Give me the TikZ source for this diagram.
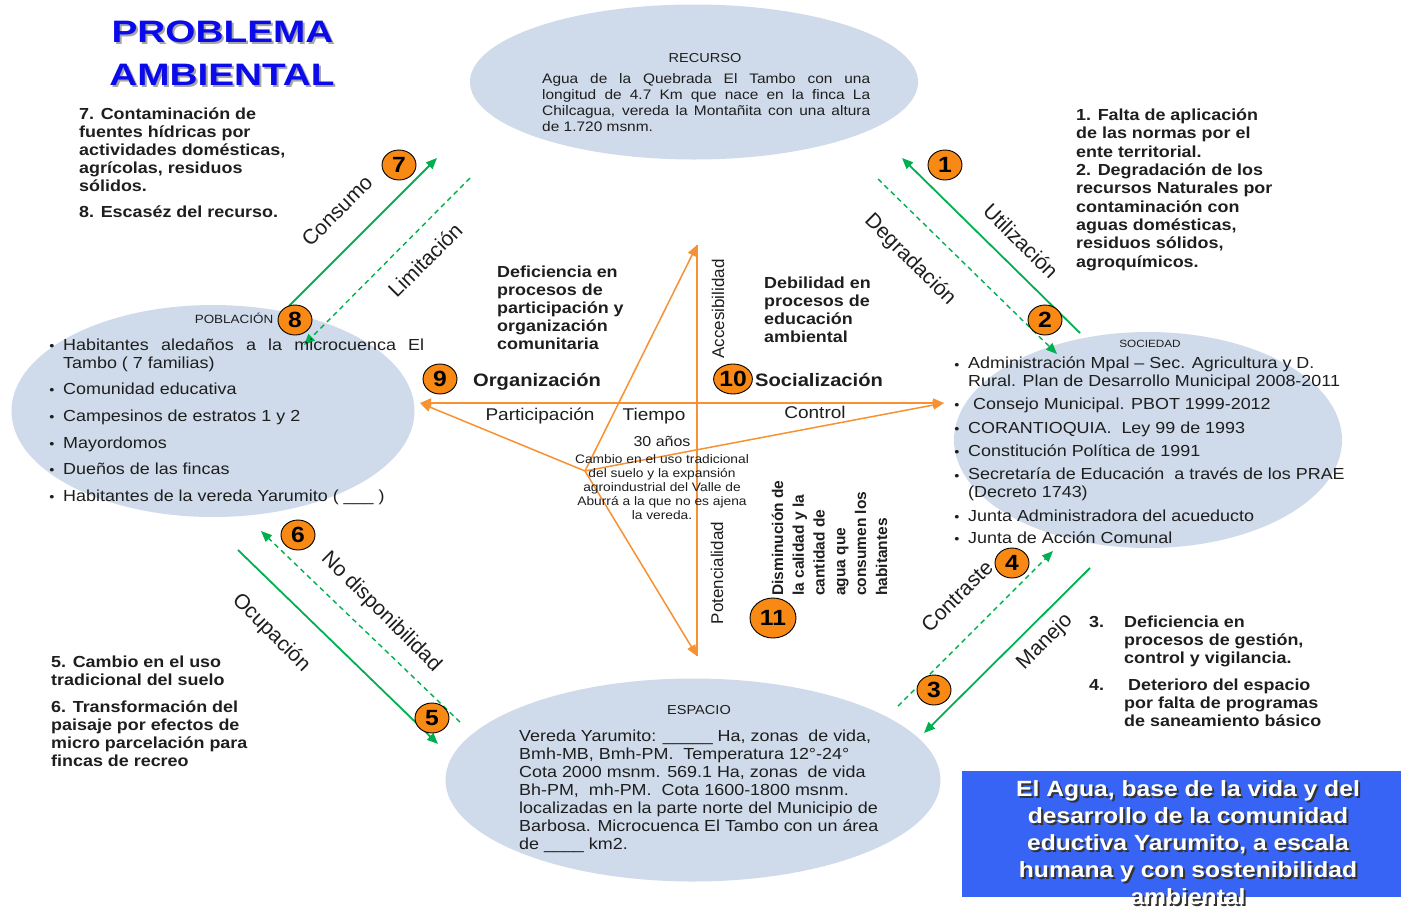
\documentclass[tikz,border=0pt]{standalone}
\usepackage{fontspec}
\setmainfont{Liberation Sans}[FakeStretch=1.12]
\newfontfamily\rotfont{Liberation Sans}
\newfontfamily\headfont{Liberation Sans}[FakeStretch=1.25]
\usetikzlibrary{shapes.geometric,arrows.meta}
\definecolor{ellfill}{RGB}{207,219,234}
\definecolor{arrgreen}{RGB}{0,176,80}
\definecolor{numorange}{RGB}{247,137,20}
\definecolor{linorange}{RGB}{247,145,50}
\definecolor{boxblue}{RGB}{55,100,245}
\definecolor{titleblue}{RGB}{10,10,235}
\definecolor{txtgray}{RGB}{30,30,30}

\begin{document}
\begin{tikzpicture}[
    x=1pt, y=-1pt,
    >={Triangle[width=9pt,length=11pt]},
    ell/.style={ellipse,fill=ellfill,inner sep=0pt},
    num/.style={ellipse,draw,fill=numorange,line width=0.9pt,inner sep=0pt,
      minimum width=34pt,minimum height=30pt,font=\bfseries\fontsize{22}{22}\selectfont},
    bold/.style={anchor=base west,align=left,inner sep=0pt,text=txtgray,
      font=\bfseries\fontsize{16}{18}\selectfont},
    plain/.style={anchor=base west,align=left,inner sep=0pt,text=txtgray,
      font=\fontsize{16}{18}\selectfont},
    small/.style={anchor=base,inner sep=0pt,text=txtgray,font=\fontsize{#1}{#1}\selectfont},
    bul/.style={anchor=base,inner sep=0pt,text=txtgray,font=\fontsize{13}{13}\selectfont},
    lab/.style={inner sep=0pt,text=txtgray,font=\rotfont\fontsize{21}{21}\selectfont},
    flow/.style={arrgreen,line width=1.8pt,->},
    back/.style={arrgreen,line width=1.4pt,dash pattern=on 5pt off 4pt,->},
    star/.style={linorange,line width=1.5pt}
  ]
  \fill[white] (0,0) rectangle (1401,906);
  \useasboundingbox (0,0) rectangle (1401,906);

  % the four ellipses
  \node[ell,minimum width=448pt,minimum height=155pt] (recurso) at (694,82) {};
  \node[ell,minimum width=403pt,minimum height=212pt] (poblacion) at (213,411) {};
  \node[ell,minimum width=388pt,minimum height=216pt] (sociedad) at (1148,440) {};
  \node[ell,minimum width=495pt,minimum height=203pt] (espacio) at (693,780) {};

  % title
  \node[anchor=base,inner sep=0pt,text=black!35,font=\headfont\bfseries\fontsize{31}{31}\selectfont] (tit1s) at (224.5,44) {PROBLEMA};
  \node[anchor=base,inner sep=0pt,text=titleblue,font=\headfont\bfseries\fontsize{31}{31}\selectfont] (tit1) at (222.5,42) {PROBLEMA};
  \node[anchor=base,inner sep=0pt,text=black!35,font=\headfont\bfseries\fontsize{31}{31}\selectfont] (tit2s) at (224,87) {AMBIENTAL};
  \node[anchor=base,inner sep=0pt,text=titleblue,font=\headfont\bfseries\fontsize{31}{31}\selectfont] (tit2) at (222,85) {AMBIENTAL};

  % green arrows between the ellipses
  \coordinate (consA) at (289,306);  \coordinate (consB) at (437,158);
  \coordinate (limA) at (470,178);   \coordinate (limB) at (304,345);
  \coordinate (utilA) at (1080,333); \coordinate (utilB) at (902,158);
  \coordinate (degA) at (878,179);   \coordinate (degB) at (1057,354);
  \coordinate (contA) at (898,706);  \coordinate (contB) at (1053,551);
  \coordinate (manA) at (1090,568);  \coordinate (manB) at (924,733);
  \coordinate (nodA) at (460,722);   \coordinate (nodB) at (261,531);
  \coordinate (ocuA) at (238,550);   \coordinate (ocuB) at (438,744);
  \draw[flow] (consA) -- (consB);
  \draw[back] (limA) -- (limB);
  \draw[flow] (utilA) -- (utilB);
  \draw[back] (degA) -- (degB);
  \draw[back] (contA) -- (contB);
  \draw[flow] (manA) -- (manB);
  \draw[back] (nodA) -- (nodB);
  \draw[flow] (ocuA) -- (ocuB);

  \node[lab,rotate=45] (consumo) at (337,211) {Consumo};
  \node[lab,rotate=45] (limitacion) at (425,260) {Limitación};
  \node[lab,rotate=-45] (utilizacion) at (1021,241) {Utilización};
  \node[lab,rotate=-45] (degradacion) at (910,260) {Degradación};
  \node[lab,rotate=45] (contraste) at (957,596) {Contraste};
  \node[lab,rotate=45] (manejo) at (1045,642) {Manejo};
  \node[lab,rotate=-45] (nodisp) at (381,612) {No disponibilidad};
  \node[lab,rotate=-45] (ocupacion) at (271,633) {Ocupación};

  % orange star
  \coordinate (hub) at (585,471);
  \coordinate (pleft) at (420,403);
  \coordinate (pright) at (944,403);
  \coordinate (ptop) at (697,245);
  \coordinate (pbot) at (697,656);
  \draw[star,<->] (pleft) -- (pright);
  \draw[star] (ptop) -- (pbot);
  \draw[star,->] (hub) -- (pleft);
  \draw[star,->] (hub) -- (ptop);
  \draw[star,->] (hub) -- (pbot);
  \draw[star,->] (hub) -- (pright);

  % texts around (base = last line)
  \node[bold] (contam) at (79,191) {7. Contaminación de\\fuentes hídricas por\\actividades domésticas,\\agrícolas, residuos\\sólidos.};
  \node[bold] (escasez) at (79,217) {8. Escaséz del recurso.};
  \node[bold,font=\bfseries\fontsize{16}{18.3}\selectfont] (falta) at (1076,267) {1. Falta de aplicación\\de las normas por el\\ente territorial.\\2. Degradación de los\\recursos Naturales por\\contaminación con\\aguas domésticas,\\residuos sólidos,\\agroquímicos.};
  \node[bold] (defpart) at (497,349) {Deficiencia en\\procesos de\\participación y\\organización\\comunitaria};
  \node[bold] (debil) at (764,342) {Debilidad en\\procesos de\\educación\\ambiental};
  \node[bold] (num3) at (1089,627) {3.};
  \node[bold] (defgest) at (1124,663) {Deficiencia en\\procesos de gestión,\\control y vigilancia.};
  \node[bold] (num4) at (1089,690) {4.};
  \node[bold] (deter) at (1124,726) {\hspace*{4pt}Deterioro del espacio\\por falta de programas\\de saneamiento básico};
  \node[bold] (cambio) at (51,685) {5. Cambio en el uso\\tradicional del suelo};
  \node[bold] (transf) at (51,766) {6. Transformación del\\paisaje por efectos de\\micro parcelación para\\fincas de recreo};

  \node[bold,font=\bfseries\fontsize{18}{18}\selectfont] (organiz) at (473,386) {Organización};
  \node[bold,font=\bfseries\fontsize{18}{18}\selectfont] (socializ) at (755,386) {Socialización};
  \node[small=17] (particip) at (540,420) {Participación};
  \node[small=17] (tiempo) at (654,420) {Tiempo};
  \node[small=17] (control) at (815,418) {Control};
  \node[small=14.3] (anos) at (662,446) {30 años};
  \node[anchor=base,align=center,inner sep=0pt,text=txtgray,font=\fontsize{12.3}{14}\selectfont] (cambiouso) at (662,519)
    {Cambio en el uso tradicional\\del suelo y la expansión\\agroindustrial del Valle de\\Aburrá a la que no es ajena\\la vereda.};
  \node[rotate=90,inner sep=0pt,text=txtgray,font=\rotfont\fontsize{17}{17}\selectfont] (accesib) at (718,309) {Accesibilidad};
  \node[rotate=90,inner sep=0pt,text=txtgray,font=\rotfont\fontsize{17}{17}\selectfont] (potenc) at (717,573) {Potencialidad};
  \node[rotate=90,anchor=base west,align=left,inner sep=0pt,text=txtgray,font=\rotfont\bfseries\fontsize{15.5}{20.8}\selectfont] (dismin) at (887,596)
    {Disminución de\\la calidad y la\\cantidad de\\agua que\\consumen los\\habitantes};

  % RECURSO
  \node[small=13] (recursoT) at (705,62) {RECURSO};
  \node[anchor=base west,align=left,inner sep=0pt,text=txtgray,font=\fontsize{13.8}{16}\selectfont] (recursoX) at (542,131)
    {\makebox[328pt][s]{Agua de la Quebrada El Tambo con una}\\
     \makebox[328pt][s]{longitud de 4.7 Km que nace en la finca La}\\
     \makebox[328pt][s]{Chilcagua, vereda la Montañita con una altura}\\
     de 1.720 msnm.};

  % POBLACION
  \node[small=12] (poblacionT) at (234,323) {POBLACIÓN};
  \node[plain] (pob1) at (63,368) {\makebox[361pt][s]{Habitantes aledaños a la microcuenca El}\\Tambo ( 7 familias)};
  \foreach \yy/\itm in {394/{Comunidad educativa},421/{Campesinos de estratos 1 y 2},448/{Mayordomos},474/{Dueños de las fincas},501/{Habitantes de la vereda Yarumito ( \_\_\_ )}}
    \node[plain] (pob-\yy) at (63,\yy) {\itm};
  \foreach \yy in {350,394,421,448,474,501}
    \node[bul] (pobb-\yy) at (52,\yy) {•};

  % SOCIEDAD
  \node[small=10.5] (sociedadT) at (1150,347) {SOCIEDAD};
  \node[plain] (soc1) at (968,386) {Administración Mpal – Sec. Agricultura y D.\\Rural. Plan de Desarrollo Municipal 2008-2011};
  \node[plain] (soc2) at (973,409) {Consejo Municipal. PBOT 1999-2012};
  \node[plain] (soc3) at (968,433) {CORANTIOQUIA.\ \ Ley 99 de 1993};
  \node[plain] (soc4) at (968,456) {Constitución Política de 1991};
  \node[plain] (soc5) at (968,497) {Secretaría de Educación\ \ a través de los PRAE\\(Decreto 1743)};
  \node[plain] (soc6) at (968,521) {Junta Administradora del acueducto};
  \node[plain] (soc7) at (968,543) {Junta de Acción Comunal};
  \foreach \yy in {369,409,433,456,480,521,543}
    \node[bul] (socb-\yy) at (957,\yy) {•};

  % ESPACIO
  \node[small=13] (espacioT) at (699,714) {ESPACIO};
  \node[anchor=base west,align=left,inner sep=0pt,text=txtgray,font=\fontsize{16}{18}\selectfont] (espacioX) at (519,849)
    {Vereda Yarumito: \_\_\_\_\_ Ha, zonas\ \ de vida,\\
     Bmh-MB, Bmh-PM.\ \ Temperatura 12°-24°\\
     Cota 2000 msnm. 569.1 Ha, zonas\ \ de vida\\
     Bh-PM,\ \ mh-PM.\ \ Cota 1600-1800 msnm.\\
     localizadas en la parte norte del Municipio de\\
     Barbosa. Microcuenca El Tambo con un área\\
     de \_\_\_\_ km2.};

  % blue box
  \node[fill=boxblue,inner sep=0pt,minimum width=439pt,minimum height=126pt,anchor=north west] (lemabox) at (962,771) {};
  \node[anchor=base,align=center,inner sep=0pt,text=black!80,font=\bfseries\fontsize{22}{27}\selectfont] (lemas) at (1190,906)
    {El Agua, base de la vida y del\\desarrollo de la comunidad\\eductiva Yarumito, a escala\\humana y con sostenibilidad\\ambiental};
  \node[anchor=base,align=center,inner sep=0pt,text=white,font=\bfseries\fontsize{22}{27}\selectfont] (lema) at (1188,904)
    {El Agua, base de la vida y del\\desarrollo de la comunidad\\eductiva Yarumito, a escala\\humana y con sostenibilidad\\ambiental};

  % numbered markers
  \node[num] (m1) at (945,165) {1};
  \node[num] (m2) at (1045,320) {2};
  \node[num] (m3) at (934,690) {3};
  \node[num] (m4) at (1012,563) {4};
  \node[num] (m5) at (432,718) {5};
  \node[num] (m6) at (298,535) {6};
  \node[num] (m7) at (399,165) {7};
  \node[num] (m8) at (295,320) {8};
  \node[num] (m9) at (440,379) {9};
  \node[num] (m10) at (733,379) {10};
  \node[num,minimum width=46pt,minimum height=40pt] (m11) at (773,618) {11};
\end{tikzpicture}
\end{document}
